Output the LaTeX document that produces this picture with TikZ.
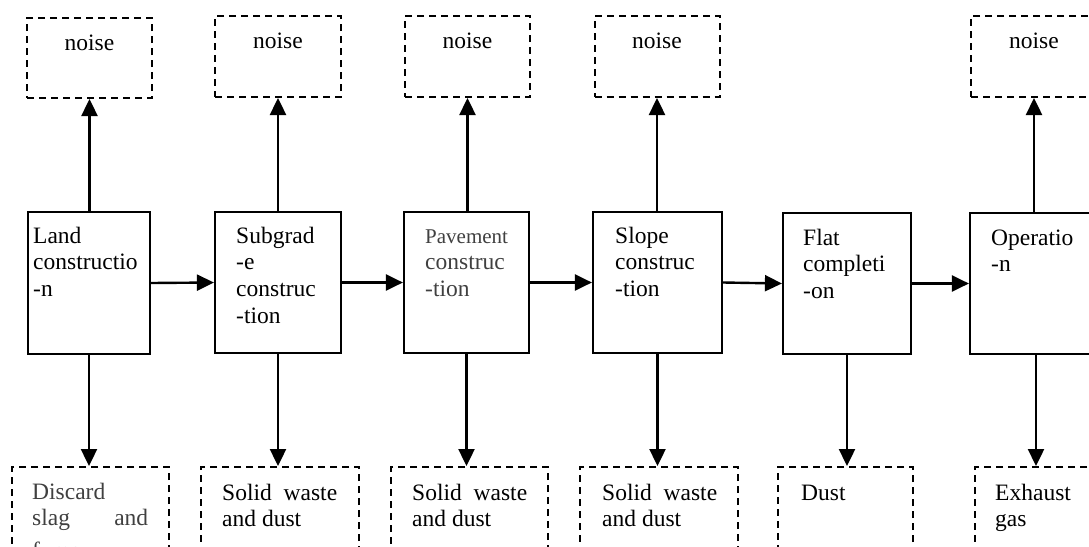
\documentclass[tikz,border=0pt]{standalone}
\usepackage{fontspec}
\setmainfont{Liberation Serif}
\usetikzlibrary{arrows.meta}
\definecolor{greytext}{HTML}{404040}
\tikzset{
  mainbox/.style={draw, line width=2.2pt, inner sep=0pt},
  outbox/.style={draw, line width=2pt, dash pattern=on 7pt off 5pt, inner sep=0pt},
  txt/.style={inner sep=0pt, anchor=base west, font=\fontsize{23.5}{26.8}\selectfont},
  ntxt/.style={inner sep=0pt, anchor=base, font=\fontsize{23.5}{26.8}\selectfont},
  arr/.style={line width=2.4pt, -{Triangle[length=17pt,width=16pt]}}
}
\begin{document}
\begin{tikzpicture}[x=1pt,y=-1pt]
\useasboundingbox (0,0) rectangle (1089,546);
\clip (0,0) rectangle (1089,546);
% noise boxes
\node[outbox, minimum width=125pt, minimum height=80pt] (n1) at (89.5,58) {};
\node[outbox, minimum width=126pt, minimum height=81pt] (n2) at (278,56.5) {};
\node[outbox, minimum width=125pt, minimum height=81pt] (n3) at (467.5,56.5) {};
\node[outbox, minimum width=125pt, minimum height=81pt] (n4) at (657,56.5) {};
\node[outbox, minimum width=126pt, minimum height=81pt] (n6) at (1034,56.5) {};
\node[ntxt] (nt1) at (89.5,50) {noise};
\node[ntxt] (nt2) at (278,48) {noise};
\node[ntxt] (nt3) at (467.5,48) {noise};
\node[ntxt] (nt4) at (657,48) {noise};
\node[ntxt] (nt6) at (1034,48) {noise};
% main boxes
\node[mainbox, minimum width=122pt, minimum height=142pt] (b1) at (89,283) {};
\node[mainbox, minimum width=126pt, minimum height=141pt] (b2) at (278,282.5) {};
\node[mainbox, minimum width=125pt, minimum height=141pt] (b3) at (466.5,282.5) {};
\node[mainbox, minimum width=129pt, minimum height=141pt] (b4) at (657.5,282.5) {};
\node[mainbox, minimum width=128pt, minimum height=141pt] (b5) at (847,283.5) {};
\node[mainbox, minimum width=132pt, minimum height=141pt] (b6) at (1036,283.5) {};
\node[txt] (t1) at (33,243) {\vtop{\hbox{Land}\hbox{constructio}\hbox{-n}}};
\node[txt] (t2) at (236,243) {\vtop{\hbox{Subgrad}\hbox{-e}\hbox{construc}\hbox{-tion}}};
\node[txt, text=greytext] (t3) at (425,243) {\vtop{\hbox{\fontsize{21}{26.8}\selectfont Pavement}\hbox{construc}\hbox{-tion}}};
\node[txt] (t4) at (615,243) {\vtop{\hbox{Slope}\hbox{construc}\hbox{-tion}}};
\node[txt] (t5) at (803,245) {\vtop{\hbox{Flat}\hbox{completi}\hbox{-on}}};
\node[txt] (t6) at (991,245) {\vtop{\hbox{Operatio}\hbox{-n}}};
% bottom boxes
\node[outbox, minimum width=157pt, minimum height=120pt] (d1) at (90.5,527) {};
\node[outbox, minimum width=158pt, minimum height=120pt] (d2) at (280,527) {};
\node[outbox, minimum width=157pt, minimum height=120pt] (d3) at (469.5,527) {};
\node[outbox, minimum width=158pt, minimum height=120pt] (d4) at (659,527) {};
\node[outbox, minimum width=135pt, minimum height=120pt] (d5) at (845.5,527) {};
\node[outbox, minimum width=158pt, minimum height=120pt] (d6) at (1054,527) {};
\node[txt, text=greytext] (s1) at (32,499) {\vtop{\hbox{Discard}\hbox to 116pt{slag\hfill and}\vskip 6pt\hbox{fume}}};
\node[txt] (s2) at (222,500) {\vtop{\hbox to 115pt{Solid\hfill waste}\hbox{and dust}}};
\node[txt] (s3) at (412,500) {\vtop{\hbox to 115pt{Solid\hfill waste}\hbox{and dust}}};
\node[txt] (s4) at (602,500) {\vtop{\hbox to 115pt{Solid\hfill waste}\hbox{and dust}}};
\node[txt] (s5) at (801,500) {Dust};
\node[txt] (s6) at (995,500) {\vtop{\hbox{Exhaust}\hbox{gas}}};
% horizontal arrows
\draw[arr] (b1.east) -- (b2.west);
\draw[arr] (b2.east) -- (b3.west);
\draw[arr] (b3.east) -- (b4.west);
\draw[arr] (b4.east) -- (b5.west);
\draw[arr] (b5.east) -- (b6.west);
% up arrows
\draw[arr] (b1.north -| n1.south) -- (n1.south);
\draw[arr] (b2.north -| n2.south) -- (n2.south);
\draw[arr] (b3.north -| n3.south) -- (n3.south);
\draw[arr] (b4.north -| n4.south) -- (n4.south);
\draw[arr] (b6.north -| n6.south) -- (n6.south);
% down arrows
\draw[arr] (b1.south) -- (b1.south |- d1.north);
\draw[arr] (b2.south) -- (b2.south |- d2.north);
\draw[arr] (b3.south) -- (b3.south |- d3.north);
\draw[arr] (b4.south) -- (b4.south |- d4.north);
\draw[arr] (b5.south) -- (b5.south |- d5.north);
\draw[arr] (b6.south) -- (b6.south |- d6.north);
\end{tikzpicture}
\end{document}
